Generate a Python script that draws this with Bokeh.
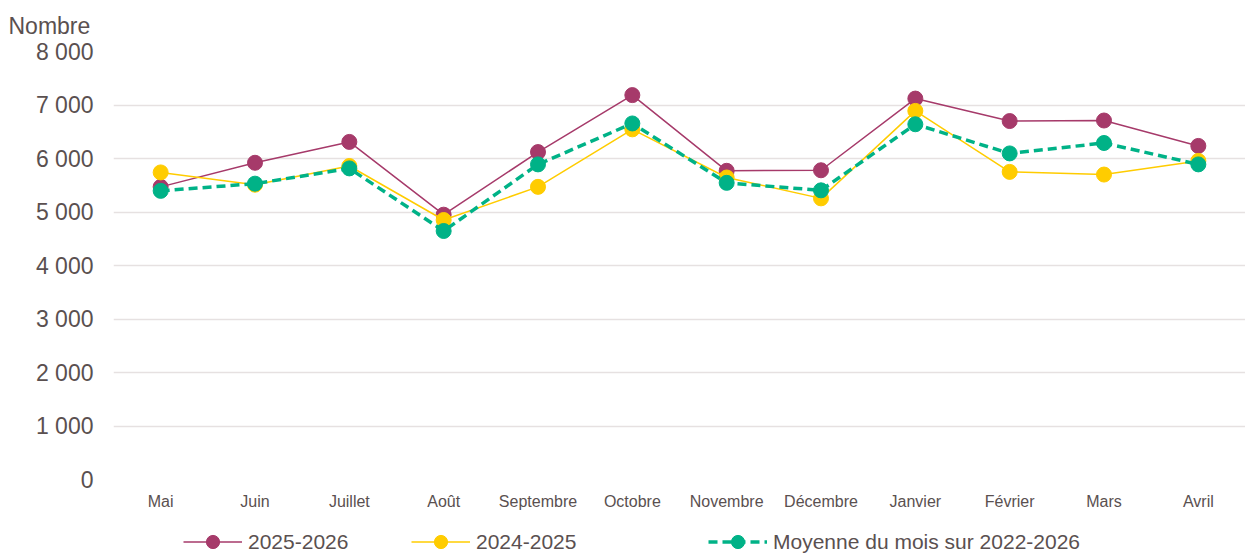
from bokeh.plotting import figure
from bokeh.models import Range1d, FixedTicker, Legend, LegendItem
from bokeh.layouts import column
from bokeh.embed import file_html
from bokeh.resources import INLINE

mois = ["Mai", "Juin", "Juillet", "Août", "Septembre", "Octobre", "Novembre",
        "Décembre", "Janvier", "Février", "Mars", "Avril"]
serie_2025_2026 = [5470, 5920, 6310, 4950, 6120, 7185, 5770, 5780, 7120, 6700, 6710, 6235]
serie_2024_2025 = [5740, 5510, 5860, 4850, 5470, 6545, 5645, 5255, 6890, 5750, 5700, 5955]
moyenne_2022_2026 = [5395, 5530, 5815, 4645, 5890, 6655, 5545, 5405, 6640, 6095, 6290, 5890]
y_ticks = [0, 1000, 2000, 3000, 4000, 5000, 6000, 7000, 8000]
y_tick_labels = ["0", "1 000", "2 000", "3 000", "4 000", "5 000", "6 000", "7 000", "8 000"]
noms = ["2025-2026", "2024-2025", "Moyenne du mois sur 2022-2026"]

TEXT = "#5A5050"
FONT = "Liberation Sans"
C_PURPLE = "#A63A6A"
C_YELLOW = "#FFCC00"
C_GREEN = "#00B287"

styles = [
    dict(color=C_PURPLE, width=1.5, dash="solid"),
    dict(color=C_YELLOW, width=1.5, dash="solid"),
    dict(color=C_GREEN, width=3.5, dash="9 5"),
]
series = [serie_2025_2026, serie_2024_2025, moyenne_2022_2026]

x = list(range(len(mois)))

p = figure(width=1245, height=513, x_range=Range1d(-0.5, 11.5), y_range=Range1d(0, 8000),
           output_backend="svg", toolbar_location=None,
           min_border_left=113, min_border_right=0, min_border_top=51, min_border_bottom=34)
p.outline_line_color = None
p.xgrid.grid_line_color = None
p.ygrid.grid_line_color = "#E6E1E1"
p.ygrid.grid_line_width = 1.5

p.xaxis.ticker = FixedTicker(ticks=x)
p.xaxis.major_label_overrides = {i: m for i, m in zip(x, mois)}
p.yaxis.ticker = FixedTicker(ticks=y_ticks)
p.yaxis.major_label_overrides = {t: l for t, l in zip(y_ticks, y_tick_labels)}
for ax in (p.xaxis, p.yaxis):
    ax.axis_line_color = None
    ax.major_tick_line_color = None
    ax.minor_tick_line_color = None
    ax.major_tick_out = 0
    ax.major_label_text_color = TEXT
    ax.major_label_text_font = FONT
p.xaxis.major_label_text_font_size = "16px"
p.xaxis.major_label_standoff = 13
p.yaxis.major_label_text_font_size = "23px"
p.yaxis.major_label_standoff = 20

p.title.text = "Nombre"
p.title.text_font = FONT
p.title.text_font_size = "23px"
p.title.text_font_style = "normal"
p.title.text_color = TEXT
p.title.align = "left"
p.title.vertical_align = "top"
p.title.offset = -105
p.title.standoff = 21

for serie, st in zip(series, styles):
    p.line(x, serie, line_color=st["color"], line_width=st["width"], line_dash=st["dash"])
    p.scatter(x, serie, size=15, fill_color=st["color"], line_color=st["color"])

# Legend strip below the chart (its frame is aligned with the chart's frame)
q = figure(width=1245, height=40, x_range=Range1d(-0.5, 11.5), y_range=Range1d(0, 1),
           x_axis_type=None, y_axis_type=None, output_backend="svg", toolbar_location=None,
           min_border=0)
q.outline_line_color = None

positions = [70, 298, 595]
for nom, serie, st, xpos in zip(noms, series, styles, positions):
    # proxies for the legend samples; their data lies outside this strip's range
    lr = q.line(x, serie, line_color=st["color"], line_width=st["width"], line_dash=st["dash"])
    sr = q.scatter(x, serie, fill_color=st["color"], line_color=st["color"])
    lg = Legend(items=[LegendItem(label=nom, renderers=[lr, sr])], location=(xpos, -5),
                orientation="horizontal", padding=0, margin=0, spacing=0,
                glyph_width=59, glyph_height=33, label_standoff=6,
                label_text_font=FONT, label_text_font_size="21px", label_text_color=TEXT,
                background_fill_alpha=0, border_line_color=None)
    q.add_layout(lg, "center")

layout = column(p, q, spacing=0)
open("out.html", "w").write(file_html(layout, INLINE))
